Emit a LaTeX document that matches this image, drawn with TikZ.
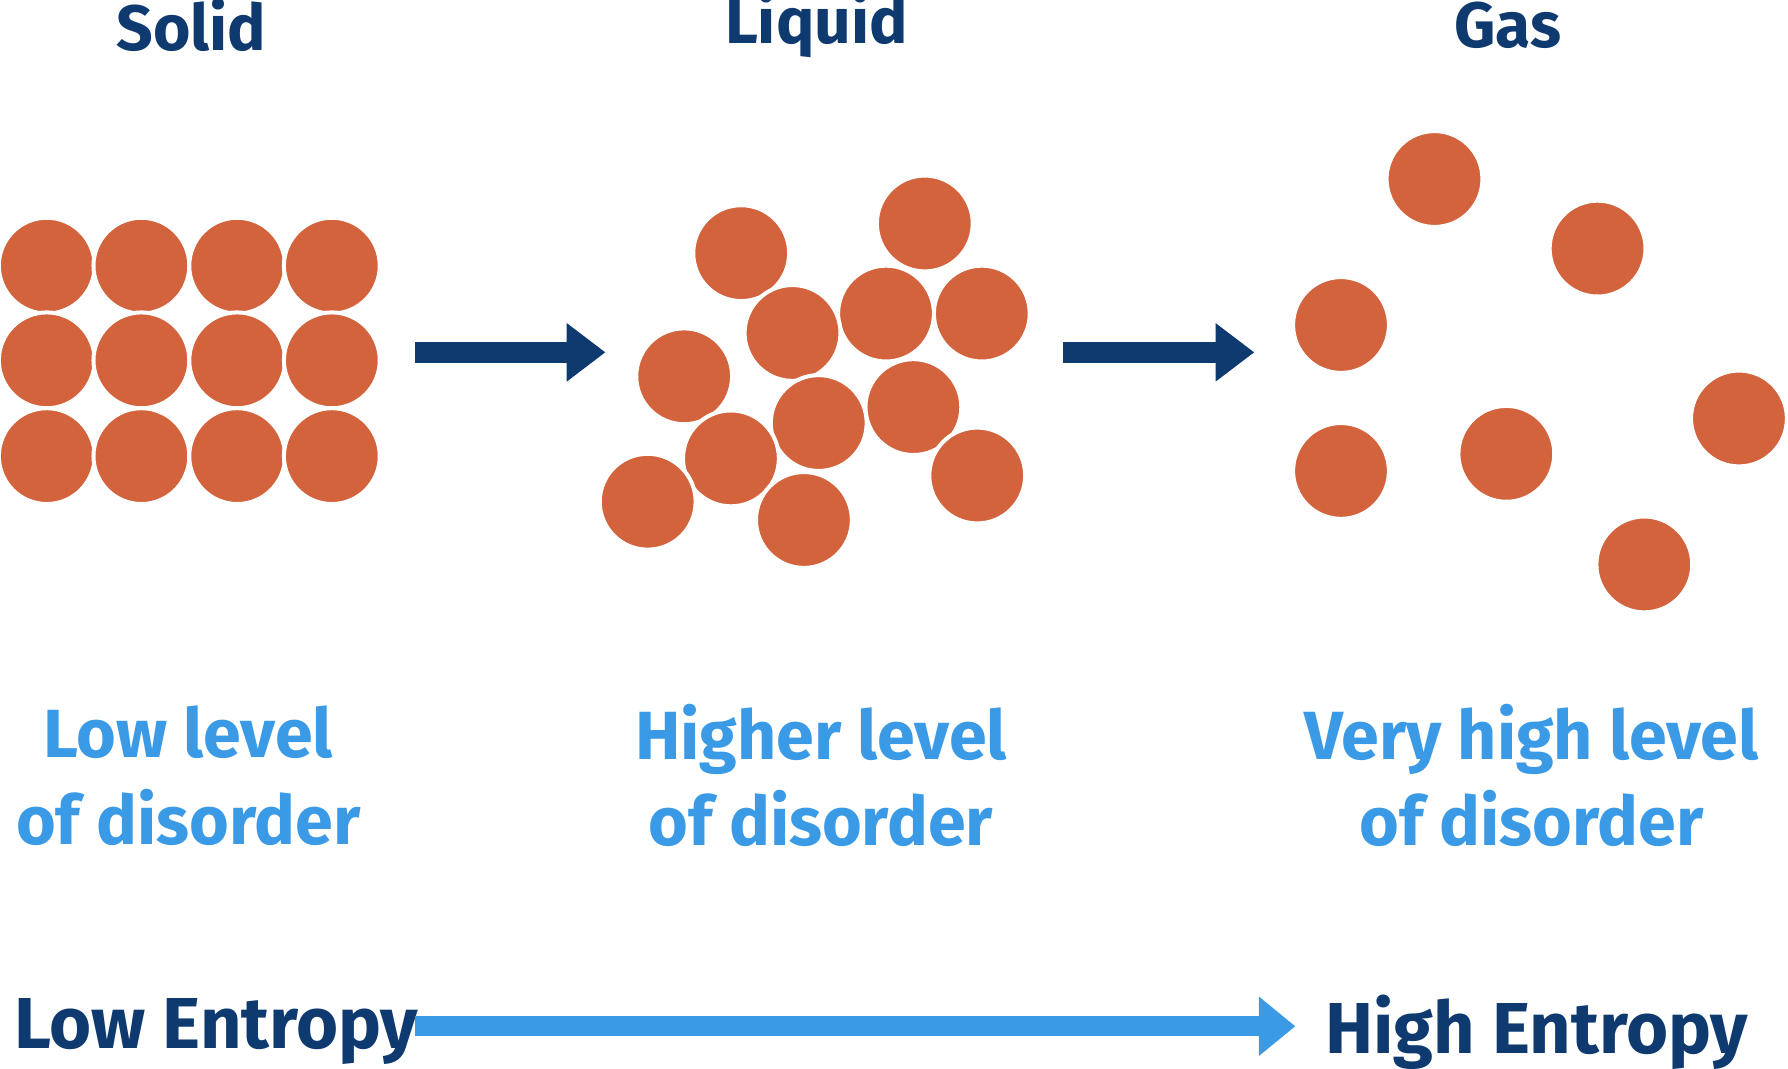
\documentclass[tikz,border=0pt]{standalone}
\usepackage{fontspec}
\setmainfont{Fira Sans}
\usetikzlibrary{arrows.meta}
\definecolor{navy}{HTML}{0E3A70}
\definecolor{sky}{HTML}{3A9AE6}
\definecolor{rust}{HTML}{D3633C}
\tikzset{
  particle/.style={fill=rust, draw=white, line width=1pt},
  phase/.style={text=navy, font=\fontsize{16}{19}\selectfont\bfseries, anchor=center},
  disorder/.style={text=sky, font=\fontsize{17}{21.6}\selectfont\bfseries, align=center},
  entropy/.style={text=navy, font=\fontsize{18}{22}\selectfont\bfseries},
  phasestep/.style={navy, line width=5.1pt, -{Triangle[length=0.34cm,width=0.49cm]}},
  trend/.style={sky, line width=5.1pt, -{Triangle[length=0.32cm,width=0.5cm]}}
}
\begin{document}
\begin{tikzpicture}[x={(0.01cm,0)}, y={(0,-0.01cm)}]
	\useasboundingbox (0,0) rectangle (1568,937);

	% solid
	\foreach \x in {41,124,208,291}
		\foreach \y in {233,316,400}
			\fill[particle] (\x,\y) circle (0.42cm);

	% liquid
	\foreach \x/\y in {650/222,811/196,861/275,777/275,695/292,600/330,801/357,718/371,641/402,857/417,568/440,705/456}
		\fill[particle] (\x,\y) circle (0.42cm);

	% gas
	\foreach \x/\y in {1258/157,1401/218,1176/285,1176/413,1321/398,1525/367,1442/495}
		\fill[particle] (\x,\y) circle (0.42cm);

	\node[phase] (solid) at (168,22) {Solid};
	\node[phase] (liquid) at (716,22) {Liquid};
	\node[phase] (gas) at (1322,22) {Gas};

	\coordinate (s1) at (364,309);
	\coordinate (s2) at (531,309);
	\coordinate (g1) at (932,309);
	\coordinate (g2) at (1100,309);
	\draw[phasestep] (s1) -- (s2);
	\draw[phasestep] (g1) -- (g2);

	\node[disorder] (low) at (165,680) {Low level\\of disorder};
	\node[disorder] (higher) at (720,680) {Higher level\\of disorder};
	\node[disorder] (veryhigh) at (1343,680) {Very high level\\of disorder};

	\node[entropy, anchor=west] (lowS) at (0,905) {Low Entropy};
	\node[entropy, anchor=west] (highS) at (1150,905) {High Entropy};
	\coordinate (t1) at (364,900);
	\coordinate (t2) at (1136,900);
	\draw[trend] (t1) -- (t2);
\end{tikzpicture}
\end{document}
